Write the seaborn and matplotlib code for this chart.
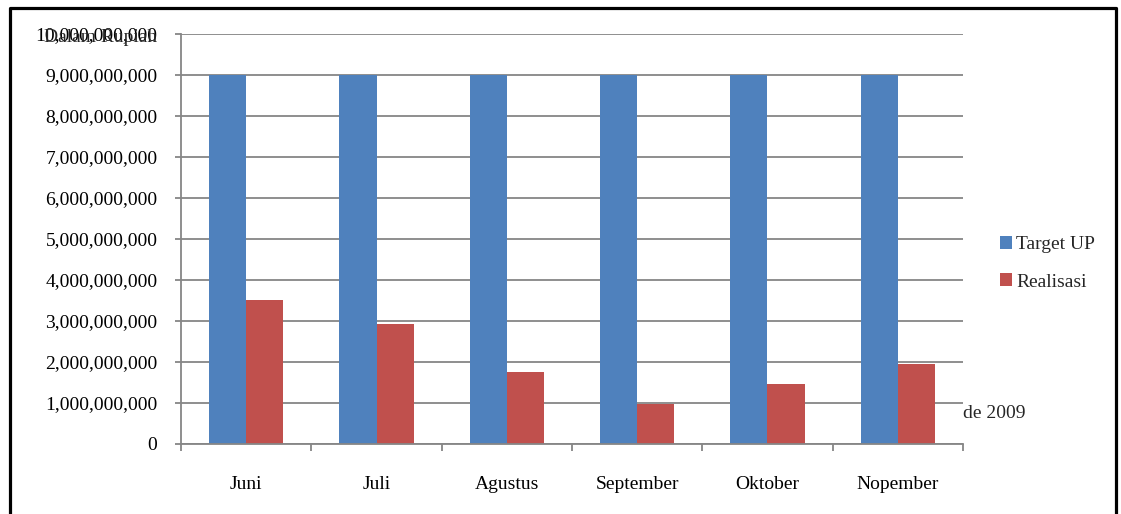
import matplotlib
matplotlib.use("Agg")
import matplotlib.pyplot as plt
import matplotlib.ticker as mticker
from matplotlib.lines import Line2D
import numpy as np
import pandas as pd
import seaborn as sns

# Monthly target vs. realisation (Rupiah)
months = ["Juni", "Juli", "Agustus", "September", "Oktober", "Nopember"]
target_up = [9_000_000_000] * 6
realisasi = [3_510_000_000, 2_930_000_000, 1_760_000_000, 970_000_000, 1_460_000_000, 1_950_000_000]
series_names = ["Target UP", "Realisasi"]
palette = ["#4F81BD", "#C0504D"]

df = pd.DataFrame({
    "Bulan": months * 2,
    "Seri": [series_names[0]] * len(months) + [series_names[1]] * len(months),
    "Nilai": target_up + realisasi,
})

sns.set_style("white")
plt.rcParams["font.family"] = ["Liberation Serif", "DejaVu Serif"]

W, H = 1121, 514
fig = plt.figure(figsize=(W / 100, H / 100), dpi=100)
ax = fig.add_axes([181 / W, (H - 444) / H, (963 - 181) / W, (444 - 34) / H])

sns.barplot(data=df, x="Bulan", y="Nilai", hue="Seri", palette=palette,
            width=0.57, saturation=1, ax=ax, order=months, hue_order=series_names,
            linewidth=0, edgecolor="none")

grid_c = "#868686"
fs = 14
ax.set_ylim(0, 10_000_000_000)
ax.set_xlim(-0.5, len(months) - 0.5)
ax.yaxis.set_major_locator(mticker.MultipleLocator(1_000_000_000))
ax.yaxis.set_major_formatter(mticker.FuncFormatter(lambda v, p: f"{int(round(v)):,}"))
ax.yaxis.grid(True, color=grid_c, linewidth=1.3)
ax.set_axisbelow(True)
ax.set_xlabel("")
ax.set_ylabel("")

for s in ["top", "right"]:
    ax.spines[s].set_visible(False)
for s in ["left", "bottom"]:
    ax.spines[s].set_color(grid_c)
    ax.spines[s].set_linewidth(1.3)

ax.tick_params(axis="y", which="major", left=True, length=4, width=1.3, color=grid_c,
               labelsize=fs, pad=13, labelcolor="black")
ax.set_xticks(np.arange(-0.5, len(months) + 0.5, 1), minor=True)
ax.tick_params(axis="x", which="minor", bottom=True, length=5, width=1.3, color=grid_c)
ax.tick_params(axis="x", which="major", bottom=False, length=0, labelsize=fs, pad=23,
               labelcolor="black")

leg = ax.legend(loc="upper left", bbox_to_anchor=(1.037, 0.527), frameon=False,
                fontsize=fs, handlelength=0.65, handleheight=0.65, handletextpad=0.2,
                labelspacing=1.05, borderaxespad=0)

fig.text(157 / W, 1 - 38 / H, "Dalam Rupiah", ha="right", va="center", fontsize=fs)
fig.text(963 / W, 1 - 413 / H, "de 2009", ha="left", va="center", fontsize=fs)

# outer frame (left, top, right)
fig.add_artist(Line2D([9.5 / W, 9.5 / W, 1116 / W, 1116 / W],
                      [0, 1 - 8 / H, 1 - 8 / H, 0],
                      transform=fig.transFigure, color="black", linewidth=2.3))

fig.savefig("out.png", dpi=100)
